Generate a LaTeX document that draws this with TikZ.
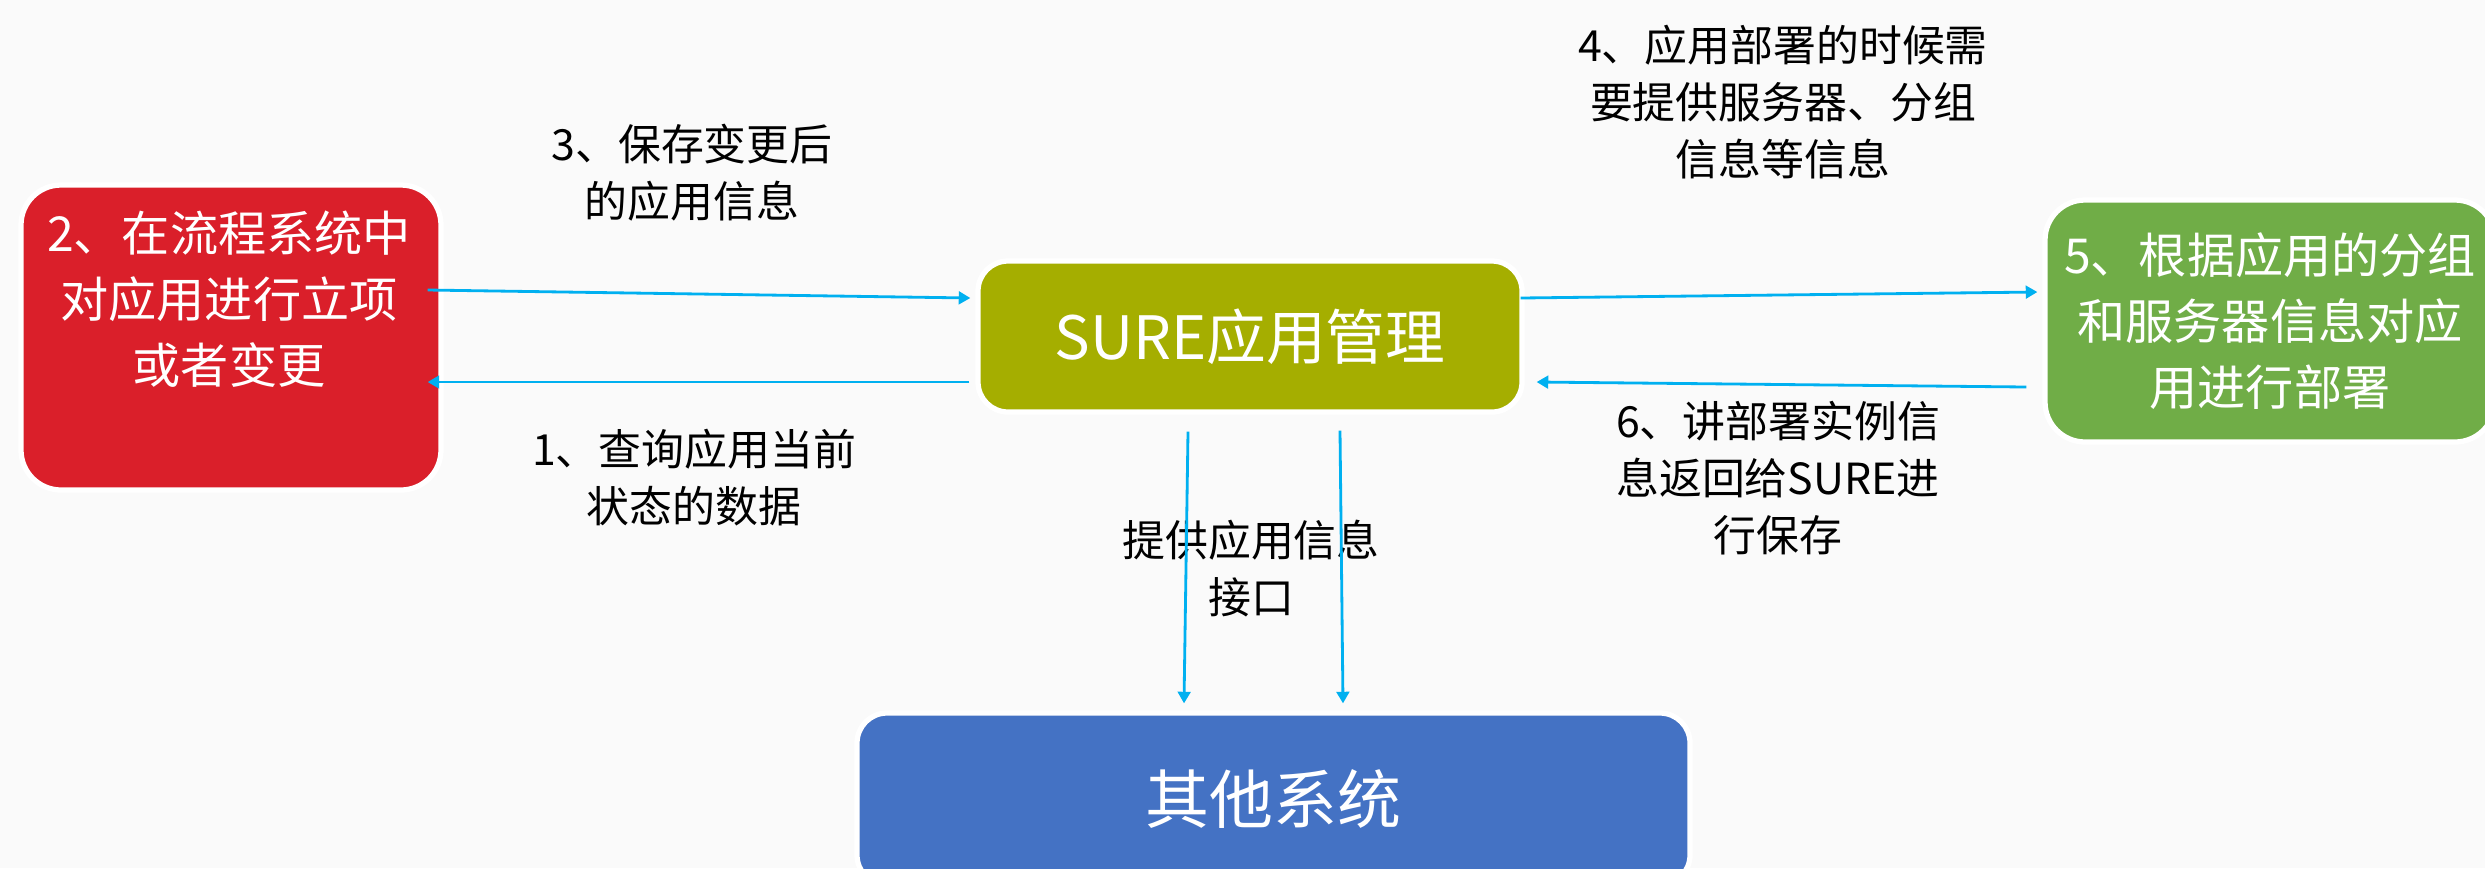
\documentclass[tikz,border=0pt]{standalone}
\usepackage{fontspec}
\setmainfont{Noto Sans CJK SC}
\usetikzlibrary{positioning,arrows.meta}
\definecolor{flowred}{RGB}{218,31,42}
\definecolor{sureolive}{RGB}{165,174,0}
\definecolor{deploygreen}{RGB}{112,173,71}
\definecolor{otherblue}{RGB}{68,114,196}
\definecolor{linkcyan}{RGB}{0,176,240}
\definecolor{pagebg}{RGB}{250,250,250}
\tikzset{
	system/.style={draw=white, line width=1.5pt, rounded corners=0.4cm,
		text=white, align=center, inner sep=0pt},
	link/.style={draw=linkcyan, line width=0.8pt, -{Triangle[length=3.3pt,width=3.6pt]}},
	note/.style={align=center, inner sep=0pt, font=\fontsize{12.2}{16.2}\selectfont}
}

\begin{document}
\begin{tikzpicture}
				\useasboundingbox (0,0) rectangle (24.85,-8.68);
				\fill[pagebg] (0,0) rectangle (24.85,-8.68);
				
				% boxes
				\node[system, fill=flowred, minimum width=4.2cm, minimum height=3.05cm] (flow) at (2.31,-3.375) {};
				\node[note, text=white, font=\fontsize{13.7}{18.8}\selectfont] (flowtext) at (2.29,-2.99)
					{2、在流程系统中\\对应用进行立项\\或者变更};
				\node[system, fill=sureolive, rounded corners=0.3cm, minimum width=5.44cm, minimum height=1.51cm,
					font=\fontsize{17}{20}\selectfont] (sure) at (12.5,-3.365) {SURE应用管理};
				\node[system, fill=deploygreen, minimum width=4.5cm, minimum height=2.42cm,
					font=\fontsize{13.7}{18.8}\selectfont] (deploy) at (22.70,-3.21)
					{5、根据应用的分组\\和服务器信息对应\\用进行部署};
				\node[system, fill=otherblue, rounded corners=0.3cm, minimum width=8.33cm, minimum height=1.72cm,
					font=\fontsize{18.2}{22}\selectfont] (other) at (12.735,-7.99) {其他系统};
				
				% notes
				\node[note] (savenote) at (6.92,-1.725) {3、保存变更后\\的应用信息};
				\node[note] (querynote) at (6.94,-4.78) {1、查询应用当前\\状态的数据};
				\node[note] (deploynote) at (17.83,-1.02) {4、应用部署的时候需\\要提供服务器、分组\\信息等信息};
				\node[note] (reportnote) at (17.78,-4.78) {6、讲部署实例信\\息返回给SURE进\\行保存};
				\node[note] (apinote) at (12.51,-5.685) {提供应用信息\\接口};
				
				% links
				\draw[link] ([xshift=-0.16cm,yshift=0.475cm]flow.east) -- ([xshift=-0.05cm,yshift=0.385cm]sure.west);
				\draw[link] ([xshift=-0.06cm,yshift=-0.455cm]sure.west) -- ([xshift=-0.16cm,yshift=-0.445cm]flow.east);
				\draw[link] ([xshift=-0.04cm,yshift=0.385cm]sure.east) -- ([xshift=-0.05cm,yshift=0.29cm]deploy.west);
				\draw[link] ([xshift=-0.16cm,yshift=-0.66cm]deploy.west) -- ([xshift=0.12cm,yshift=-0.455cm]sure.east);
				\draw[link] ([xshift=-0.62cm,yshift=-0.17cm]sure.south) -- ([xshift=-0.895cm,yshift=0.07cm]other.north);
				\draw[link] ([xshift=0.90cm,yshift=-0.16cm]sure.south) -- ([xshift=0.695cm,yshift=0.07cm]other.north);
			\end{tikzpicture}
\end{document}
